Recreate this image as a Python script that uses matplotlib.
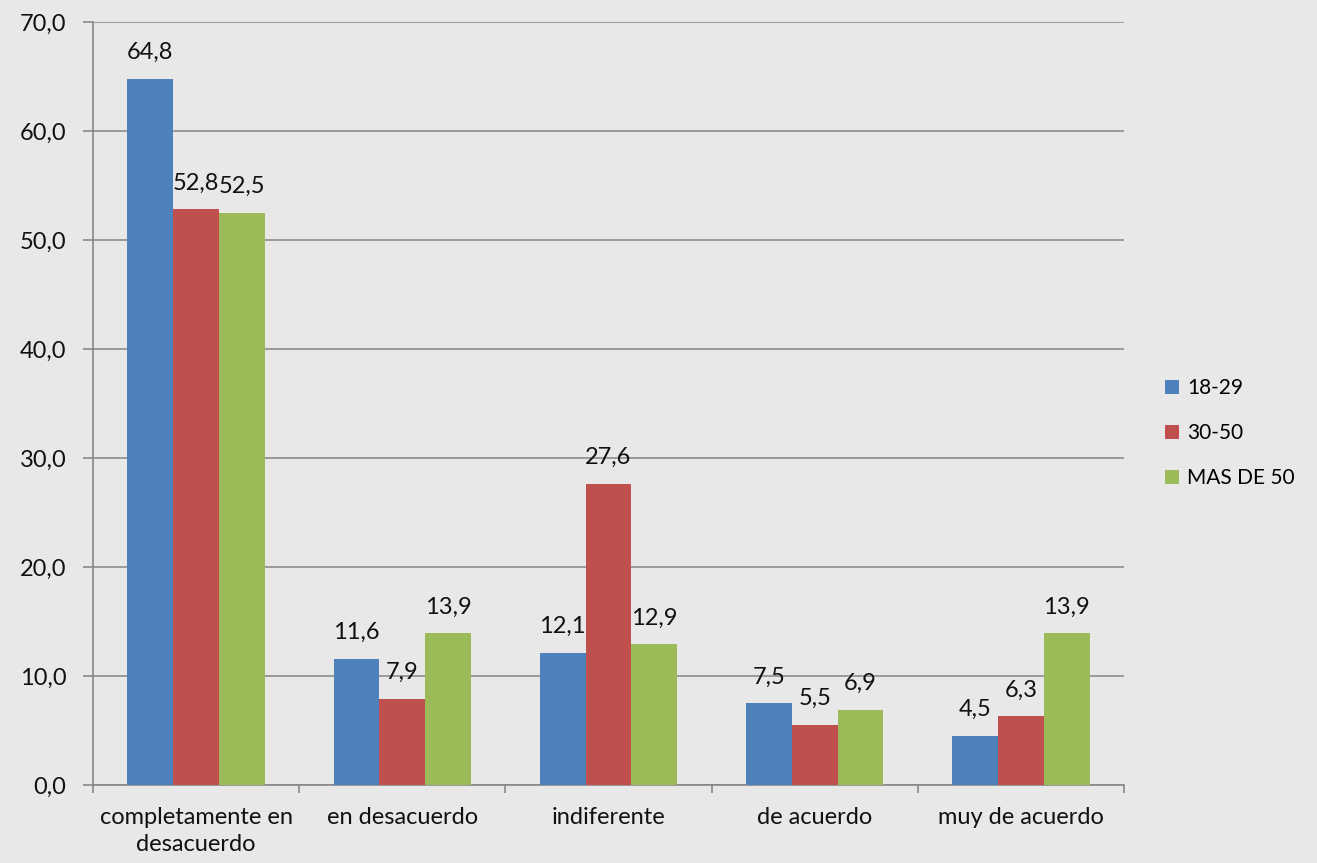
import numpy as np
import matplotlib.pyplot as plt

categories = ['completamente en\ndesacuerdo', 'en desacuerdo', 'indiferente',
              'de acuerdo', 'muy de acuerdo']
series_names = ['18-29', '30-50', 'MAS DE 50']
v_18_29 = [64.8, 11.6, 12.1, 7.5, 4.5]
v_30_50 = [52.8, 7.9, 27.6, 5.5, 6.3]
v_mas_50 = [52.5, 13.9, 12.9, 6.9, 13.9]
colors = ['#4F81BD', '#C0504D', '#9BBB59']

plt.rcParams['font.family'] = ['Lato', 'DejaVu Sans']
FS = 17

fig = plt.figure(figsize=(13.17, 8.63), dpi=100, facecolor='#e8e8e8')
ax = fig.add_axes([0.0706, 0.0904, 0.7829, 0.8841])
ax.set_facecolor('none')

x = np.arange(len(categories))
w = 0.222
for i, (vals, name) in enumerate(zip([v_18_29, v_30_50, v_mas_50], series_names)):
    pos = x + (i - 1) * w
    ax.bar(pos, vals, width=w, color=colors[i], label=name, zorder=3)
    for px, v in zip(pos, vals):
        ax.annotate('{:.1f}'.format(v).replace('.', ','), (px, v),
                    xytext=(0, 19), textcoords='offset points',
                    ha='center', va='center', fontsize=FS, color='#111111', zorder=4)

ax.set_xlim(-0.5, len(categories) - 0.5)
ax.set_ylim(0, 70)
ax.set_yticks(np.arange(0, 71, 10))
ax.set_yticklabels(['{:.1f}'.format(t).replace('.', ',') for t in np.arange(0, 71, 10)],
                   fontsize=FS, color='#111111')
ax.set_xticks(x)
ax.set_xticklabels(categories, fontsize=FS, color='#111111', linespacing=1.35)
ax.set_xticks(np.arange(-0.5, len(categories)), minor=True)
ax.tick_params(axis='x', which='major', length=0, pad=16)
ax.tick_params(axis='x', which='minor', length=6, color='#888888', width=1.2)
ax.tick_params(axis='y', length=7, color='#888888', width=1.2, pad=12)
ax.grid(axis='y', color='#8c8c8c', linewidth=1.2, zorder=0)
for s in ['top', 'right']:
    ax.spines[s].set_visible(False)
for s in ['left', 'bottom']:
    ax.spines[s].set_color('#888888')
    ax.spines[s].set_linewidth(1.2)

fig.legend(loc='center left', bbox_to_anchor=(0.870, 0.498), frameon=False,
           fontsize=15, handlelength=0.7, handleheight=0.7, handletextpad=0.4,
           labelspacing=1.2)

fig.savefig('out.png', dpi=100, facecolor=fig.get_facecolor())
